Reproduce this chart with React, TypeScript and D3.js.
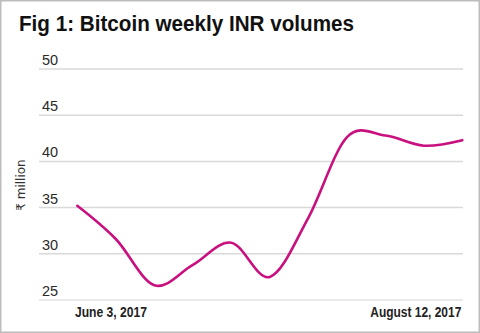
import React from "react";
import * as d3 from "d3";

const weeks = [
  "June 3, 2017", "June 10, 2017", "June 17, 2017", "June 24, 2017",
  "July 1, 2017", "July 8, 2017", "July 15, 2017", "July 22, 2017",
  "July 29, 2017", "August 5, 2017", "August 12, 2017",
];
const volumes = [35.2, 31.6, 26.6, 28.8, 31.2, 27.5, 33.9, 42.6, 42.8, 41.7, 42.3];
const yTicks = [25, 30, 35, 40, 45, 50];
const xTickLabels = ["June 3, 2017", "August 12, 2017"];

const W = 480;
const H = 333;

export default function App() {
  const x = d3.scalePoint<string>().domain(weeks).range([77.3, 462.3]);
  const y = d3.scaleLinear().domain([25, 50]).range([300, 69]);
  const line = d3
    .line<number>()
    .x((_, i) => x(weeks[i]) as number)
    .y((d) => y(d))
    .curve(d3.curveCardinal.tension(0));

  const gridLeft = 39;
  const gridRight = 463;

  return (
    <svg
      width={W}
      height={H}
      style={{ position: "absolute", left: 0, top: 0, background: "#fff" }}
    >
      <rect x={0.75} y={0.75} width={W - 1.5} height={H - 1.5} fill="#fff" stroke="#bdbdbd" strokeWidth={1.5} />
      <text
        x={19}
        y={31}
        fontFamily="Liberation Sans, Arial, sans-serif"
        fontWeight="bold"
        fontSize={22}
        fill="#111"
        textLength={335}
        lengthAdjust="spacingAndGlyphs"
      >
        Fig 1: Bitcoin weekly INR volumes
      </text>
      {yTicks.map((t) => (
        <g key={t}>
          <line
            x1={gridLeft}
            x2={gridRight}
            y1={y(t)}
            y2={y(t)}
            stroke={t === 25 ? "#e3e3e3" : "#d9d9d9"}
            strokeWidth={1.5}
          />
          <text
            x={42}
            y={y(t) - 4}
            fontFamily="Liberation Sans, Arial, sans-serif"
            fontSize={14.5}
            fill="#2a2a2a"
          >
            {t}
          </text>
        </g>
      ))}
      <text
        transform={`translate(25,185) rotate(-90)`}
        textAnchor="middle"
        fontFamily="DejaVu Sans, sans-serif"
        fontSize={12}
        fill="#333"
      >
        ₹ million
      </text>
      <path d={line(volumes) ?? ""} fill="none" stroke="#c8107f" strokeWidth={2.6} strokeLinecap="round" />
      <text
        x={(x(xTickLabels[0]) as number) - 2.3}
        y={317}
        fontFamily="Liberation Sans, Arial, sans-serif"
        fontWeight="bold"
        fontSize={14}
        fill="#222"
        textLength={72}
        lengthAdjust="spacingAndGlyphs"
      >
        {xTickLabels[0]}
      </text>
      <text
        x={(x(xTickLabels[1]) as number) - 92}
        y={317}
        fontFamily="Liberation Sans, Arial, sans-serif"
        fontWeight="bold"
        fontSize={14}
        fill="#222"
        textLength={91}
        lengthAdjust="spacingAndGlyphs"
      >
        {xTickLabels[1]}
      </text>
    </svg>
  );
}
